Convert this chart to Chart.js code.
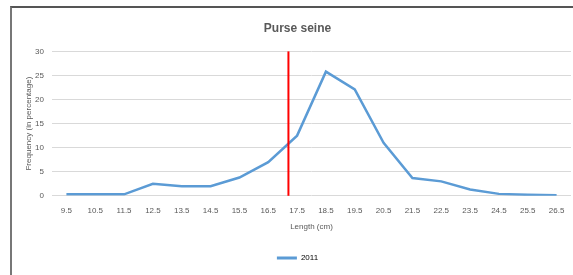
<!DOCTYPE html>
<html>
<head>
<meta charset="utf-8">
<script src="https://cdn.jsdelivr.net/npm/chart.js@4/dist/chart.umd.min.js"></script>
<style>
  html, body { margin: 0; padding: 0; background: #fff; }
  #wrap { position: relative; width: 573px; height: 275px; }
  #frame { position: absolute; left: 10px; top: 6px; right: 0; bottom: 0;
           border-left: 2px solid #777; border-top: 2px solid #555; }
  canvas { position: absolute; left: 0; top: 0; }
</style>
</head>
<body>
<div id="wrap">
  <div id="frame"></div>
  <canvas id="myChart" width="573" height="275"></canvas>
</div>
<script>
(() => {
    "use strict";

    const lengths = ["9.5", "10.5", "11.5", "12.5", "13.5", "14.5", "15.5", "16.5", "17.5",
        "18.5", "19.5", "20.5", "21.5", "22.5", "23.5", "24.5", "25.5", "26.5"];
    const freq2011 = [0.3, 0.3, 0.3, 2.5, 2.0, 2.0, 3.8, 7.0, 12.5,
        25.8, 22.1, 11.0, 3.7, 3.0, 1.3, 0.4, 0.2, 0.1];
    const yTicks = [0, 5, 10, 15, 20, 25, 30];
    const cutoffLength = 17.2;

    const fontFam = "'Liberation Sans Narrow', 'Liberation Sans', sans-serif";
    const grey = "#595959";

    // red vertical line at the cutoff length
    const cutoffLine = {
        id: "cutoffLine",
        afterDatasetsDraw(chart) {
            const x = chart.scales.x;
            const y = chart.scales.y;
            const idx = cutoffLength - parseFloat(lengths[0]);
            const px = x.getPixelForValue(idx);
            const c = chart.ctx;
            c.save();
            c.strokeStyle = "#ff0000";
            c.lineWidth = 2;
            c.beginPath();
            c.moveTo(px, y.getPixelForValue(yTicks[yTicks.length - 1]));
            c.lineTo(px, y.getPixelForValue(0));
            c.stroke();
            c.restore();
        }
    };

    const ctx = document.getElementById("myChart");
    new Chart(ctx, {
        type: "line",
        data: {
            labels: lengths,
            datasets: [{
                label: "2011",
                data: freq2011,
                borderColor: "#5b9bd5",
                backgroundColor: "#5b9bd5",
                borderWidth: 2.5,
                pointRadius: 0,
                tension: 0
            }]
        },
        options: {
            responsive: false,
            animation: false,
            layout: { padding: { left: 24, right: 2, top: 8, bottom: 3 } },
            plugins: {
                title: {
                    display: true,
                    text: "Purse seine",
                    color: grey,
                    font: { family: fontFam, size: 12, weight: "bold" },
                    padding: { top: 13, bottom: 16 }
                },
                legend: {
                    position: "bottom",
                    labels: {
                        color: grey,
                        font: { family: fontFam, size: 8 },
                        boxWidth: 20,
                        boxHeight: 0,
                        padding: 10,
                        generateLabels(chart) {
                            const ds = chart.data.datasets[0];
                            return [{
                                text: ds.label,
                                strokeStyle: ds.borderColor,
                                fillStyle: ds.borderColor,
                                lineWidth: 3,
                                datasetIndex: 0
                            }];
                        }
                    }
                },
                tooltip: { enabled: false }
            },
            scales: {
                x: {
                    offset: true,
                    grid: { display: false },
                    border: { display: false },
                    ticks: {
                        color: grey,
                        maxRotation: 0,
                        autoSkip: false,
                        padding: 2,
                        font: { family: fontFam, size: 8 }
                    },
                    title: {
                        display: true,
                        text: "Length (cm)",
                        color: grey,
                        font: { family: fontFam, size: 8 },
                        padding: { top: 5, bottom: 12 }
                    }
                },
                y: {
                    min: yTicks[0],
                    max: yTicks[yTicks.length - 1],
                    afterBuildTicks(scale) {
                        scale.ticks = yTicks.map(v => ({ value: v }));
                    },
                    afterFit(scale) {
                        scale.width = 28;
                    },
                    grid: { color: "#d9d9d9", drawTicks: false },
                    border: { display: false },
                    ticks: {
                        color: grey,
                        padding: 8,
                        font: { family: fontFam, size: 8 }
                    },
                    title: {
                        display: true,
                        text: "Frequency (in percentage)",
                        color: grey,
                        font: { family: fontFam, size: 8 },
                        padding: { top: 0, bottom: 0 }
                    }
                }
            }
        },
        plugins: [cutoffLine]
    });
})();
</script>
</body>
</html>
